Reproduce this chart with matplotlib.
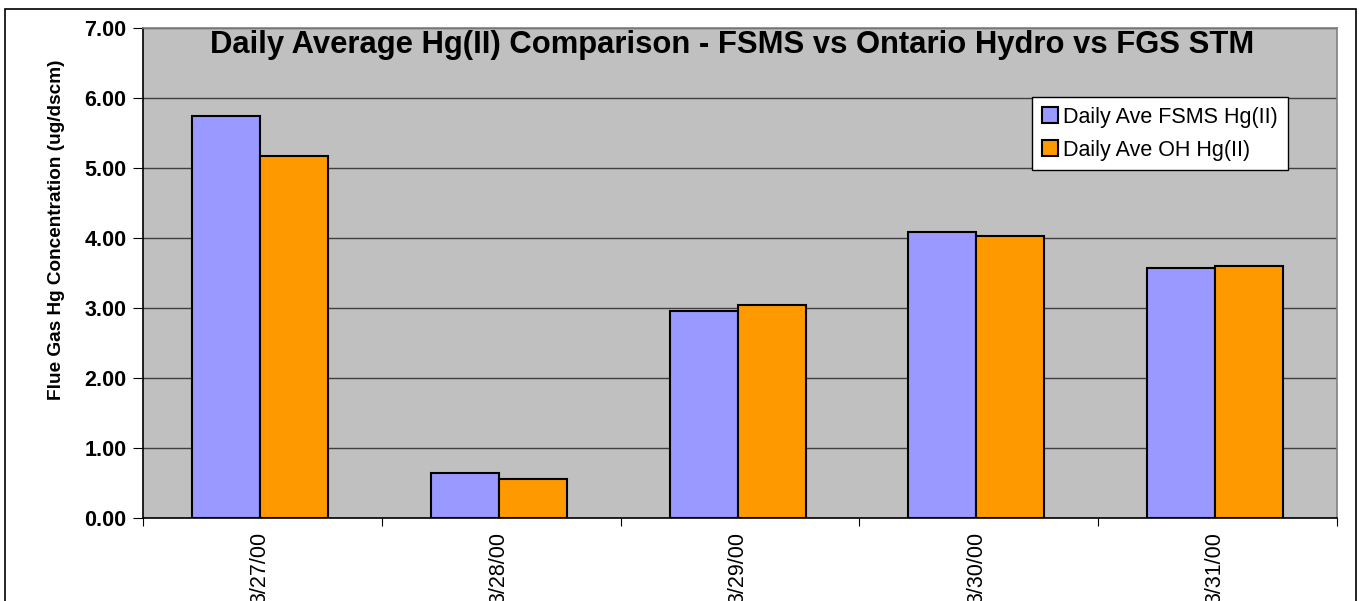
import matplotlib.pyplot as plt
import matplotlib.patches as mpatches
import numpy as np

### 데이터 ###
dates = ["3/27/00", "3/28/00", "3/29/00", "3/30/00", "3/31/00"]
fsms_hg2 = [5.74, 0.64, 2.96, 4.09, 3.57]
oh_hg2 = [5.17, 0.56, 3.04, 4.03, 3.60]

W, H = 1359, 601
plt.rcParams["font.family"] = ["Liberation Sans", "DejaVu Sans"]

fig = plt.figure(figsize=(W / 100, H / 100), dpi=100)

# 바깥 테두리 (아래쪽은 잘려 있음)
fig.patches.append(
    mpatches.Rectangle(
        (5 / W, -0.05), (1356 - 5) / W, (H - 9) / H + 0.05,
        transform=fig.transFigure, fill=False, edgecolor="black", linewidth=1.2,
    )
)

ax = fig.add_axes([143 / W, 1 - 518 / H, (1337 - 143) / W, (518 - 28) / H])
ax.set_facecolor("#C0C0C0")

x = np.arange(len(dates))
bw = 0.285
off = -0.01
ax.bar(x - bw / 2 + off, fsms_hg2, bw, color="#9999FF", edgecolor="black", linewidth=1.5,
       label="Daily Ave FSMS Hg(II)", zorder=3)
ax.bar(x + bw / 2 + off, oh_hg2, bw, color="#FF9900", edgecolor="black", linewidth=1.5,
       label="Daily Ave OH Hg(II)", zorder=3)

ax.set_xlim(-0.5, len(dates) - 0.5)
ax.set_ylim(0, 7)
ax.set_yticks(np.arange(0, 7.01, 1))
ax.set_yticklabels([f"{v:.2f}" for v in np.arange(0, 7.01, 1)], fontsize=15.5, fontweight="bold")
ax.yaxis.grid(True, color="#404040", linewidth=1)
ax.set_axisbelow(True)

# x축: 경계에 틱, 중앙에 라벨
ax.set_xticks(np.arange(-0.5, len(dates)), minor=False)
ax.set_xticklabels([])
ax.set_xticks(x + off, minor=True)
ax.set_xticklabels(dates, minor=True, rotation=90, fontsize=15.5, va="top")
ax.tick_params(axis="x", which="minor", length=0, pad=10)
ax.tick_params(axis="x", which="major", length=6, direction="out")
ax.tick_params(axis="y", length=7, direction="out", pad=5)

for s in ["left", "bottom"]:
    ax.spines[s].set_color("black")
    ax.spines[s].set_linewidth(1.2)
for s in ["top", "right"]:
    ax.spines[s].set_color("#808080")
    ax.spines[s].set_linewidth(1.2)

fig.text(732 / W, 1 - 53 / H,
         "Daily Average Hg(II) Comparison - FSMS vs Ontario Hydro vs FGS STM",
         ha="center", va="baseline", fontsize=22.3, fontweight="bold")

fig.text(57 / W, 1 - 230 / H, "Flue Gas Hg Concentration (ug/dscm)",
         rotation=90, ha="center", va="center", fontsize=13.7, fontweight="bold")

leg = ax.legend(loc="upper left", bbox_to_anchor=(1032 / W, 1 - 97 / H),
                bbox_transform=fig.transFigure, fontsize=15.5, frameon=True,
                fancybox=False, edgecolor="black", facecolor="white", framealpha=1,
                handlelength=0.75, handleheight=0.75, handletextpad=0.25,
                borderpad=0.45, labelspacing=0.55, borderaxespad=0)
leg.get_frame().set_linewidth(1)

fig.savefig("out.png", dpi=100)
